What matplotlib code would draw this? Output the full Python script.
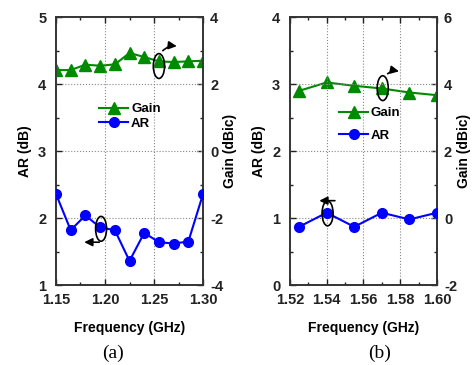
import numpy as np
import matplotlib.pyplot as plt
from matplotlib.patches import Ellipse
from matplotlib.lines import Line2D
from matplotlib.ticker import MultipleLocator

plt.rcParams['font.family'] = ['Liberation Sans', 'DejaVu Sans']
plt.rcParams['font.weight'] = 'bold'
plt.rcParams['axes.unicode_minus'] = False

# --- data: panel (a) ---
freq_a = [1.150, 1.165, 1.180, 1.195, 1.210, 1.225, 1.240, 1.255, 1.270, 1.285, 1.300]
ar_a = [2.36, 1.82, 2.04, 1.86, 1.82, 1.36, 1.78, 1.64, 1.62, 1.65, 2.36]
gain_a = [2.42, 2.42, 2.58, 2.55, 2.59, 2.93, 2.81, 2.68, 2.66, 2.68, 2.70]

# --- data: panel (b) ---
freq_b = [1.525, 1.540, 1.555, 1.570, 1.585, 1.600]
ar_b = [0.87, 1.08, 0.87, 1.08, 0.98, 1.08]
gain_b = [3.80, 4.05, 3.95, 3.87, 3.75, 3.67]

GREEN = '#008a00'
BLUE = '#0000ff'


def setup_panel(ax, ax2, xlim, xmajor, ylim, y2lim, xticks, xticklabels):
    ax.set_xlim(*xlim)
    ax.set_ylim(*ylim)
    ax2.set_ylim(*y2lim)
    ax.set_xticks(xticks)
    ax.set_xticklabels(xticklabels)
    ax.xaxis.set_minor_locator(MultipleLocator(xmajor / 2))
    ax.yaxis.set_major_locator(MultipleLocator(1))
    ax.yaxis.set_minor_locator(MultipleLocator(0.5))
    ax2.yaxis.set_major_locator(MultipleLocator(2))
    ax2.yaxis.set_minor_locator(MultipleLocator(1))
    for a in (ax, ax2):
        a.tick_params(which='both', direction='in', labelsize=10.5, width=1.0, colors='#222222')
        a.tick_params(which='major', length=4)
        a.tick_params(which='minor', length=2.5)
        for s in a.spines.values():
            s.set_linewidth(1.2)
            s.set_color('#333333')
    ax.tick_params(which='both', top=True)
    ax.tick_params(axis='x', pad=6)
    ax.tick_params(axis='y', pad=7)
    ax2.tick_params(axis='y', pad=5)
    ax.grid(True, which='major', linestyle=':', color='#888888', linewidth=0.8)
    ax.set_axisbelow(True)
    ax.set_xlabel('Frequency (GHz)', fontsize=10, fontweight='bold', labelpad=10)
    ax.set_ylabel('AR (dB)', fontsize=10, fontweight='bold', labelpad=4)
    ax2.set_ylabel('Gain (dBic)', fontsize=10, fontweight='bold', labelpad=0)


def add_mark(ax, center, size, start, end, rad):
    ax.add_patch(Ellipse(center, size[0], size[1], fill=False, edgecolor='black',
                         linewidth=1.2, zorder=6))
    ax.annotate('', xy=end, xytext=start,
                arrowprops=dict(arrowstyle='-|>', color='black', lw=1.2,
                                mutation_scale=12,
                                connectionstyle=f'arc3,rad={rad}'),
                zorder=6)


fig = plt.figure(figsize=(4.76, 3.65), dpi=100)

# --- panel (a) ---
ax = fig.add_axes([0.1176, 0.219, 0.309, 0.734])
ax2 = ax.twinx()
setup_panel(ax, ax2, (1.15, 1.30), 0.05, (1, 5), (-4, 4),
            [1.15, 1.20, 1.25, 1.30], ['1.15', '1.20', '1.25', '1.30'])
ax.plot(freq_a, ar_a, color=BLUE, marker='o', markersize=7, linewidth=1.5, zorder=5)
ax2.plot(freq_a, gain_a, color=GREEN, marker='^', markersize=8, linewidth=1.5, zorder=5)
ax.set_zorder(ax2.get_zorder() + 1)
ax.patch.set_visible(False)
add_mark(ax, (1.255, 4.27), (0.0115, 0.37), (1.257, 4.47), (1.276, 4.56), -0.3)
add_mark(ax, (1.196, 1.84), (0.0112, 0.37), (1.197, 1.64), (1.176, 1.64), 0.0)
handles = [Line2D([], [], color=GREEN, marker='^', markersize=8, linewidth=1.5),
           Line2D([], [], color=BLUE, marker='o', markersize=7, linewidth=1.5)]
ax.legend(handles, ['Gain', 'AR'], loc='center left', bbox_to_anchor=(0.25, 0.63),
          frameon=False, fontsize=9.5, handlelength=2.2, handletextpad=0.2,
          labelspacing=0.15, borderpad=0)
fig.text(0.237, 0.02, '(a)', fontsize=14, family='Liberation Serif',
         fontweight='normal', ha='center')

# --- panel (b) ---
bx = fig.add_axes([0.609, 0.219, 0.309, 0.734])
bx2 = bx.twinx()
setup_panel(bx, bx2, (1.52, 1.60), 0.02, (0, 4), (-2, 6),
            [1.52, 1.54, 1.56, 1.58, 1.60], ['1.52', '1.54', '1.56', '1.58', '1.60'])
bx.plot(freq_b, ar_b, color=BLUE, marker='o', markersize=7, linewidth=1.5, zorder=5)
bx2.plot(freq_b, gain_b, color=GREEN, marker='^', markersize=8, linewidth=1.5, zorder=5)
bx.set_zorder(bx2.get_zorder() + 1)
bx.patch.set_visible(False)
add_mark(bx, (1.5705, 2.94), (0.006, 0.37), (1.572, 3.13), (1.5808, 3.18), -0.3)
add_mark(bx, (1.5405, 1.07), (0.006, 0.37), (1.546, 1.26), (1.5345, 1.26), 0.0)
bx.legend(handles, ['Gain', 'AR'], loc='center left', bbox_to_anchor=(0.29, 0.60),
          frameon=False, fontsize=9.5, handlelength=2.2, handletextpad=0.2,
          labelspacing=0.75, borderpad=0)
fig.text(0.798, 0.02, '(b)', fontsize=14, family='Liberation Serif',
         fontweight='normal', ha='center')

fig.savefig('out.png', dpi=100)
